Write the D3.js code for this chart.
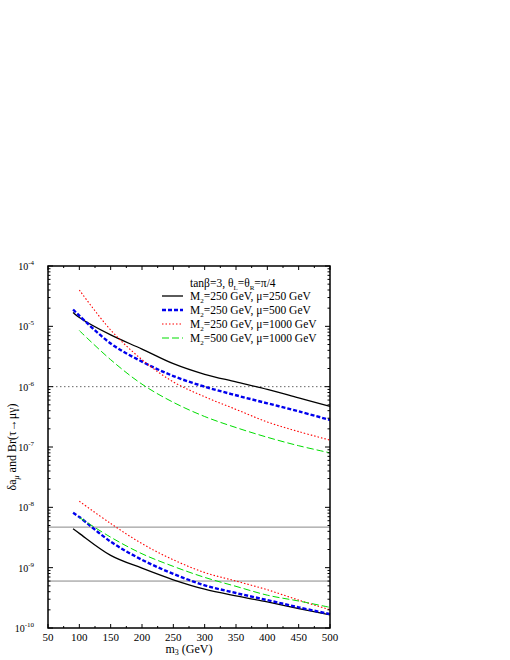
<!DOCTYPE html>
<html><head><meta charset="utf-8">
<script src="https://cdn.jsdelivr.net/npm/d3@7"></script>
<style>body{margin:0;background:#fff}text{font-family:"Liberation Serif",serif}</style>
</head><body><div id="chart"></div>
<script>
var masses = [90, 100, 150, 200, 250, 300, 350, 400, 450, 500];
var upperBlack = [1.7e-5, 1.4e-5, 7.2e-6, 4.2e-6, 2.4e-6, 1.6e-6, 1.2e-6, 9e-7, 6.5e-7, 4.7e-7];
var upperBlue = [1.9e-5, 1.5e-5, 5.2e-6, 2.6e-6, 1.5e-6, 1e-6, 7.2e-7, 5.3e-7, 3.9e-7, 2.8e-7];
var upperRed = [null, 4e-5, 8.7e-6, 2.8e-6, 1.2e-6, 6.8e-7, 4.2e-7, 2.6e-7, 1.8e-7, 1.3e-7];
var upperGreen = [null, 8.5e-6, 2.8e-6, 1.1e-6, 5.5e-7, 3.2e-7, 2.1e-7, 1.45e-7, 1.05e-7, 8e-8];
var lowerBlack = [4.4e-9, 3.7e-9, 1.6e-9, 9.8e-10, 6.3e-10, 4.4e-10, 3.4e-10, 2.7e-10, 2.1e-10, 1.65e-10];
var lowerBlue = [8.1e-9, 6.9e-9, 2.7e-9, 1.35e-9, 7.9e-10, 5.1e-10, 3.8e-10, 2.9e-10, 2.2e-10, 1.7e-10];
var lowerRed = [null, 1.26e-8, 5.4e-9, 2.5e-9, 1.35e-9, 8.3e-10, 6e-10, 4.3e-10, 2.9e-10, 2e-10];
var lowerGreen = [null, 6.8e-9, 3.2e-9, 1.7e-9, 1.05e-9, 6.9e-10, 4.9e-10, 3.5e-10, 2.8e-10, 2.2e-10];
var refLines = [1e-6, 4.7e-9, 6e-10];
var xTicks = [50, 100, 150, 200, 250, 300, 350, 400, 450, 500];
var yExps = [-10, -9, -8, -7, -6, -5, -4];
var legendLabels = ["M2=250 GeV, μ=250 GeV", "M2=250 GeV, μ=500 GeV",
    "M2=250 GeV, μ=1000 GeV", "M2=500 GeV, μ=1000 GeV"];

var W = 510, H = 660;
var L = 48, R = 330, T = 266, B = 628;
var svg = d3.select("#chart").append("svg").attr("width", W).attr("height", H);
var x = d3.scaleLinear().domain([50, 500]).range([L, R]);
var y = d3.scaleLog().domain([1e-10, 1e-4]).range([B, T]);

var styles = [
    {color: "#000", width: 1.3, dash: null},
    {color: "#0000ee", width: 2.4, dash: "4,2"},
    {color: "#ff0000", width: 1.1, dash: "1.5,2"},
    {color: "#00dd00", width: 1, dash: "7,3"}
];
var series = [[upperBlack, lowerBlack], [upperBlue, lowerBlue], [upperRed, lowerRed], [upperGreen, lowerGreen]];

// reference lines
svg.append("line").attr("x1", L).attr("x2", R).attr("y1", y(refLines[0])).attr("y2", y(refLines[0]))
    .attr("stroke", "#666").attr("stroke-dasharray", "1.5,2.5");
refLines.slice(1).forEach(function(v) {
    svg.append("line").attr("x1", L).attr("x2", R).attr("y1", y(v)).attr("y2", y(v))
        .attr("stroke", "#888").attr("stroke-width", 1);
});

var line = d3.line().defined(function(d) { return d[1] != null; })
    .x(function(d) { return x(d[0]); }).y(function(d) { return y(d[1]); })
    .curve(d3.curveCatmullRom);
series.forEach(function(pair, i) {
    pair.forEach(function(vals) {
        svg.append("path").attr("d", line(masses.map(function(m, j) { return [m, vals[j]]; })))
            .attr("fill", "none").attr("stroke", styles[i].color)
            .attr("stroke-width", styles[i].width).attr("stroke-dasharray", styles[i].dash);
    });
});

// frame
svg.append("rect").attr("x", L).attr("y", T).attr("width", R - L).attr("height", B - T)
    .attr("fill", "none").attr("stroke", "#000").attr("stroke-width", 1.5);

// x ticks
xTicks.forEach(function(t) {
    [[B, -4], [T, 4]].forEach(function(p) {
        svg.append("line").attr("x1", x(t)).attr("x2", x(t)).attr("y1", p[0]).attr("y2", p[0] + p[1]).attr("stroke", "#000");
    });
    svg.append("text").attr("x", x(t)).attr("y", B + 13).attr("text-anchor", "middle")
        .attr("font-size", 11).text(t);
});
for (var t = 75; t < 500; t += 50) {
    [[B, -2], [T, 2]].forEach(function(p) {
        svg.append("line").attr("x1", x(t)).attr("x2", x(t)).attr("y1", p[0]).attr("y2", p[0] + p[1]).attr("stroke", "#000");
    });
}

// y ticks
yExps.forEach(function(e) {
    var yy = y(Math.pow(10, e));
    [[L, 5], [R, -5]].forEach(function(p) {
        svg.append("line").attr("x1", p[0]).attr("x2", p[0] + p[1]).attr("y1", yy).attr("y2", yy).attr("stroke", "#000");
    });
    var tx = svg.append("text").attr("x", L - 14).attr("y", yy + 4).attr("text-anchor", "end").attr("font-size", 10);
    tx.append("tspan").text("10");
    tx.append("tspan").attr("dy", -5).attr("font-size", 7).text(e);
    if (e < -4) for (var k = 2; k < 10; k++) {
        var ym = y(k * Math.pow(10, e));
        [[L, 2.5], [R, -2.5]].forEach(function(p) {
            svg.append("line").attr("x1", p[0]).attr("x2", p[0] + p[1]).attr("y1", ym).attr("y2", ym).attr("stroke", "#000");
        });
    }
});

// axis titles
var xt = svg.append("text").attr("x", (L + R) / 2).attr("y", B + 25).attr("text-anchor", "middle").attr("font-size", 12);
xt.append("tspan").text("m");
xt.append("tspan").attr("font-size", 8).attr("dy", 2).text("3");
xt.append("tspan").attr("dy", -2).text(" (GeV)");
var yt = svg.append("text").attr("transform", "translate(16," + ((T + B) / 2) + ") rotate(-90)")
    .attr("text-anchor", "middle").attr("font-size", 12);
yt.append("tspan").text("δa");
yt.append("tspan").attr("font-size", 8).attr("dy", 3).attr("font-style", "italic").text("μ");
yt.append("tspan").attr("dy", -3).text(" and Br(τ→μγ)");

// legend
var title = svg.append("text").attr("x", 190).attr("y", 287).attr("font-size", 11.5);
title.append("tspan").text("tanβ=3, θ");
title.append("tspan").attr("font-size", 7).attr("dy", 3).text("L");
title.append("tspan").attr("dy", -3).text("=θ");
title.append("tspan").attr("font-size", 7).attr("dy", 3).text("R");
title.append("tspan").attr("dy", -3).text("=π/4");
legendLabels.forEach(function(lab, i) {
    var ly = 300 + i * 14;
    svg.append("line").attr("x1", 162).attr("x2", 183).attr("y1", ly - 4).attr("y2", ly - 4)
        .attr("stroke", styles[i].color).attr("stroke-width", styles[i].width).attr("stroke-dasharray", styles[i].dash);
    var tx = svg.append("text").attr("x", 190).attr("y", ly).attr("font-size", 11.5);
    tx.append("tspan").text("M");
    tx.append("tspan").attr("font-size", 7).attr("dy", 3).text("2");
    tx.append("tspan").attr("dy", -3).text(lab.slice(2));
});
</script></body></html>
